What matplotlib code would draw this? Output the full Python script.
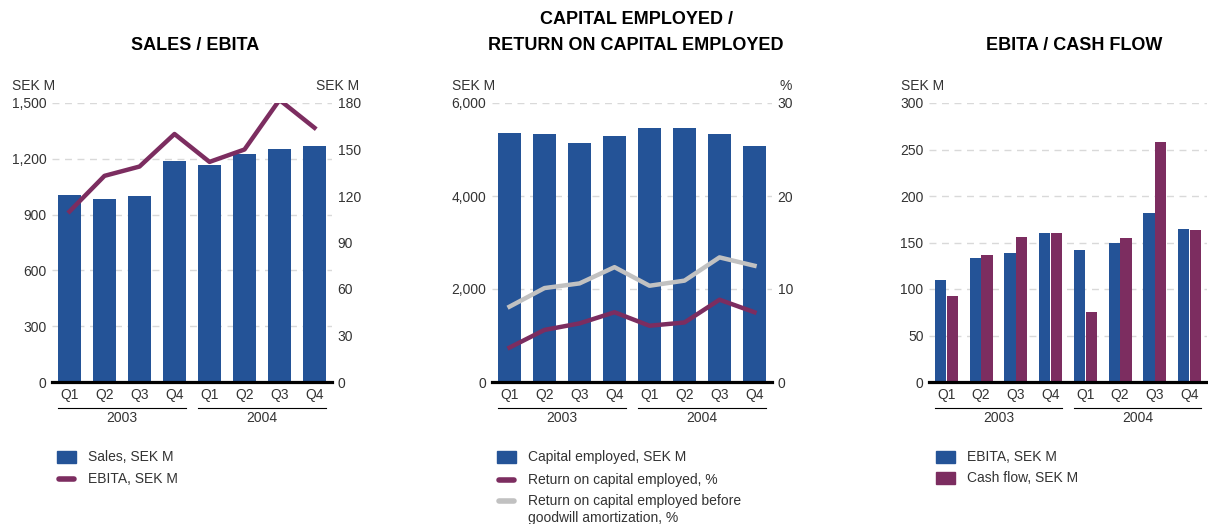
import numpy as np
import matplotlib
matplotlib.use("Agg")
import matplotlib.pyplot as plt
from matplotlib.patches import Rectangle
from matplotlib.lines import Line2D
from matplotlib.transforms import blended_transform_factory

plt.rcParams['font.family'] = ['Liberation Sans', 'DejaVu Sans']

# data
quarters = ['Q1', 'Q2', 'Q3', 'Q4', 'Q1', 'Q2', 'Q3', 'Q4']
years = ['2003', '2004']

sales = [1005, 984, 1000, 1190, 1167, 1226, 1253, 1269]
ebita = [110, 133, 139, 160, 142, 150, 182, 164]
cap_employed = [5355, 5333, 5140, 5290, 5462, 5462, 5333, 5075]
roce = [3.7, 5.6, 6.3, 7.5, 6.05, 6.4, 8.85, 7.5]
roce_before_gw = [8.1, 10.1, 10.6, 12.35, 10.35, 10.9, 13.4, 12.5]
cash_flow = [92.7, 136.8, 156, 160.4, 75.5, 155, 258, 163.6]

BLUE = '#245397'
PURPLE = '#7c2d60'
GREY = '#c1c1c1'
TXT = '#333333'

W, H = 1208, 524
fig = plt.figure(figsize=(W / 100, H / 100), dpi=100)


def px(x, y):
    return x / W, 1 - y / H


def make_ax(left, right, top=103, bottom=382):
    l, b = px(left, bottom)
    return fig.add_axes([l, b, (right - left) / W, (bottom - top) / H])


def style(ax, ymax, step, fmt):
    x = np.arange(len(quarters))
    ax.set_xlim(-0.5, len(quarters) - 0.5)
    ax.set_ylim(0, ymax)
    ax.set_yticks(np.arange(0, ymax + 1, step))
    ax.set_yticklabels([fmt(v) for v in np.arange(0, ymax + 1, step)])
    ax.set_xticks(x)
    ax.set_xticklabels(quarters)
    for s in ['left', 'right', 'top']:
        ax.spines[s].set_visible(False)
    ax.spines['bottom'].set_linewidth(2.3)
    ax.spines['bottom'].set_color('black')
    ax.spines['bottom'].set_zorder(5)
    ax.tick_params(axis='both', length=0, labelsize=10, labelcolor=TXT)
    ax.tick_params(axis='x', pad=4)
    ax.tick_params(axis='y', pad=4)
    for v in np.arange(step, ymax + 1, step):
        ax.axhline(v, color='#d9d9d9', lw=1, dashes=(5, 4), zorder=0)
    # year brackets
    tr = blended_transform_factory(ax.transData, ax.transAxes)
    for i, yr in enumerate(years):
        x0 = i * 4 - 0.33
        x1 = i * 4 + 3.33
        ax.plot([x0, x1], [-0.093, -0.093], color='black', lw=0.8,
                transform=tr, clip_on=False)
        ax.text(i * 4 + 1.5, -0.129, yr, transform=tr, ha='center',
                va='center', fontsize=10, color=TXT)


def legend(x, rows):
    for y, kind, color, label in rows:
        if kind == 'bar':
            fx, fy = px(x, y + 6)
            fig.patches.append(Rectangle((fx, fy), 19 / W, 12 / H,
                                         color=color, transform=fig.transFigure))
        else:
            a, b = px(x + 2, y)
            c, _ = px(x + 17, y)
            fig.lines.append(Line2D([a, c], [b, b], color=color, lw=4,
                                    solid_capstyle='round',
                                    transform=fig.transFigure))
        tx, ty = px(x + 31, y)
        fig.text(tx, ty, label, fontsize=10, color=TXT, va='center', ha='left')


def thousands(v):
    return f'{int(v):,}'


x = np.arange(len(quarters))

# ---- chart 1: sales / ebita
ax1 = make_ax(52, 332)
ax1.bar(x, sales, width=0.66, color=BLUE, zorder=2)
style(ax1, 1500, 300, thousands)
ax1b = ax1.twinx()
ax1b.plot(x, ebita, color=PURPLE, lw=3.2, zorder=3)
ax1b.set_ylim(0, 180)
ax1b.set_yticks(np.arange(0, 181, 30))
for s in ['left', 'right', 'top', 'bottom']:
    ax1b.spines[s].set_visible(False)
ax1b.tick_params(axis='y', length=0, labelsize=10, labelcolor=TXT, pad=4)

fig.text(*px(195, 45), 'SALES / EBITA', ha='center', va='center',
         fontsize=13, fontweight='bold')
fig.text(*px(12, 86), 'SEK M', ha='left', va='center', fontsize=10, color=TXT)
fig.text(*px(359, 86), 'SEK M', ha='right', va='center', fontsize=10, color=TXT)
legend(57, [(457, 'bar', BLUE, 'Sales, SEK M'),
            (479, 'line', PURPLE, 'EBITA, SEK M')])

# ---- chart 2: capital employed / roce
ax2 = make_ax(492, 772)
ax2.bar(x, cap_employed, width=0.66, color=BLUE, zorder=2)
style(ax2, 6000, 2000, thousands)
ax2b = ax2.twinx()
ax2b.plot(x, roce_before_gw, color=GREY, lw=3.2, zorder=3)
ax2b.plot(x, roce, color=PURPLE, lw=3.2, zorder=3)
ax2b.set_ylim(0, 30)
ax2b.set_yticks(np.arange(0, 31, 10))
for s in ['left', 'right', 'top', 'bottom']:
    ax2b.spines[s].set_visible(False)
ax2b.tick_params(axis='y', length=0, labelsize=10, labelcolor=TXT, pad=4)

fig.text(*px(636, 20), 'CAPITAL EMPLOYED /', ha='center', va='center',
         fontsize=13, fontweight='bold')
fig.text(*px(636, 45), 'RETURN ON CAPITAL EMPLOYED', ha='center', va='center',
         fontsize=13, fontweight='bold')
fig.text(*px(452, 86), 'SEK M', ha='left', va='center', fontsize=10, color=TXT)
fig.text(*px(792, 86), '%', ha='right', va='center', fontsize=10, color=TXT)
legend(497, [(457, 'bar', BLUE, 'Capital employed, SEK M'),
             (480, 'line', PURPLE, 'Return on capital employed, %'),
             (501, 'line', GREY, 'Return on capital employed before')])
fig.text(*px(528, 518), 'goodwill amortization, %', fontsize=10, color=TXT,
         va='center', ha='left')

# ---- chart 3: ebita / cash flow
ax3 = make_ax(929, 1207)
ax3.bar(x - 0.17, ebita, width=0.32, color=BLUE, zorder=2)
ax3.bar(x + 0.17, cash_flow, width=0.32, color=PURPLE, zorder=2)
style(ax3, 300, 50, thousands)

fig.text(*px(1074, 45), 'EBITA / CASH FLOW', ha='center', va='center',
         fontsize=13, fontweight='bold')
fig.text(*px(901, 86), 'SEK M', ha='left', va='center', fontsize=10, color=TXT)
legend(936, [(457, 'bar', BLUE, 'EBITA, SEK M'),
             (478, 'bar', PURPLE, 'Cash flow, SEK M')])

fig.savefig('out.png', dpi=100)
